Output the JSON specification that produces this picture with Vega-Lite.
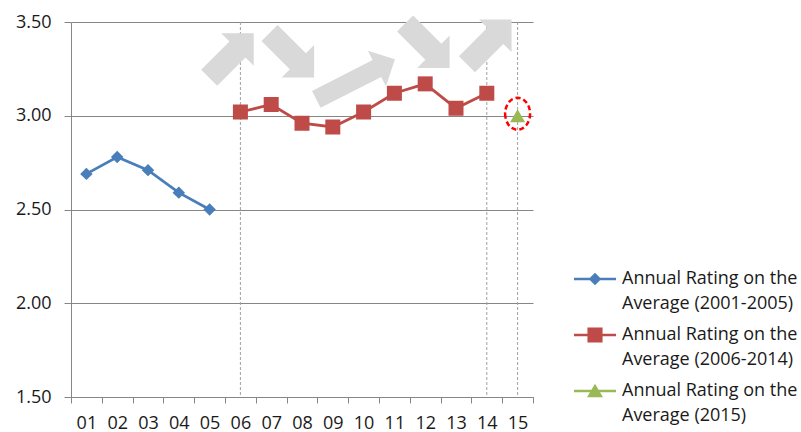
{
  "$schema": "https://vega.github.io/schema/vega-lite/v6.json",
  "width": 462,
  "height": 375,
  "autosize": {"type": "none"},
  "padding": {"left": 71, "top": 22, "right": 268, "bottom": 35},
  "background": "white",
  "config": {
    "view": {"stroke": null},
    "font": "Open Sans",
    "style": {"guide-label": {"lineHeight": 25}},
    "axis": {
      "labelFont": "Open Sans",
      "labelFontSize": 18,
      "labelColor": "#1a1a1a",
      "domainColor": "#868686",
      "tickColor": "#868686",
      "gridColor": "#868686",
      "domainWidth": 1,
      "tickWidth": 1,
      "gridWidth": 1,
      "title": null
    },
    "legend": {
      "labelFont": "Open Sans",
      "labelFontSize": 18,
      "labelColor": "#1a1a1a"
    }
  },
  "datasets": {
    "ratings": [
      {"yr": "01", "v": 2.69, "series": "Annual Rating on the Average (2001-2005)"},
      {"yr": "02", "v": 2.78, "series": "Annual Rating on the Average (2001-2005)"},
      {"yr": "03", "v": 2.71, "series": "Annual Rating on the Average (2001-2005)"},
      {"yr": "04", "v": 2.59, "series": "Annual Rating on the Average (2001-2005)"},
      {"yr": "05", "v": 2.50, "series": "Annual Rating on the Average (2001-2005)"},
      {"yr": "06", "v": 3.02, "series": "Annual Rating on the Average (2006-2014)"},
      {"yr": "07", "v": 3.06, "series": "Annual Rating on the Average (2006-2014)"},
      {"yr": "08", "v": 2.96, "series": "Annual Rating on the Average (2006-2014)"},
      {"yr": "09", "v": 2.94, "series": "Annual Rating on the Average (2006-2014)"},
      {"yr": "10", "v": 3.02, "series": "Annual Rating on the Average (2006-2014)"},
      {"yr": "11", "v": 3.12, "series": "Annual Rating on the Average (2006-2014)"},
      {"yr": "12", "v": 3.17, "series": "Annual Rating on the Average (2006-2014)"},
      {"yr": "13", "v": 3.04, "series": "Annual Rating on the Average (2006-2014)"},
      {"yr": "14", "v": 3.12, "series": "Annual Rating on the Average (2006-2014)"},
      {"yr": "15", "v": 3.00, "series": "Annual Rating on the Average (2015)"}
    ],
    "dividers": [
      {"yr": "06"},
      {"yr": "14"},
      {"yr": "15"}
    ],
    "arrows": [
      {"pos": 5.71, "level": 3.321, "trend": "up"},
      {"pos": 7.67, "level": 3.323, "trend": "down"},
      {"pos": 9.74, "level": 3.194, "trend": "rise"},
      {"pos": 12.07, "level": 3.373, "trend": "down"},
      {"pos": 14.08, "level": 3.394, "trend": "up"}
    ]
  },
  "layer": [
    {
      "encoding": {
        "x": {
          "field": "yr",
          "type": "ordinal",
          "scale": {
            "type": "band",
            "domain": ["01","02","03","04","05","06","07","08","09","10","11","12","13","14","15"],
            "paddingInner": 0,
            "paddingOuter": 0
          },
          "axis": {
            "tickBand": "extent",
            "tickSize": 6,
            "labelPadding": 11,
            "labelAngle": 0,
            "grid": false
          }
        }
      },
      "layer": [
        {
          "data": {"name": "dividers"},
          "mark": {"type": "rule", "color": "#a0a0a0", "strokeWidth": 1, "strokeDash": [3, 2], "opacity": 1}
        },
        {
          "data": {"name": "ratings"},
          "encoding": {
            "y": {
              "field": "v",
              "type": "quantitative",
              "scale": {"domain": [1.5, 3.5], "nice": false, "zero": false},
              "axis": {
                "values": [1.5, 2, 2.5, 3, 3.5],
                "format": ".2f",
                "tickSize": 7,
                "labelPadding": 13,
                "grid": true
              }
            }
          },
          "layer": [
            {
              "transform": [{"filter": "datum.series == 'Annual Rating on the Average (2001-2005)'"}],
              "mark": {"type": "line", "strokeWidth": 2.8, "color": "#4a7ebb"}
            },
            {
              "transform": [{"filter": "datum.series == 'Annual Rating on the Average (2006-2014)'"}],
              "mark": {"type": "line", "strokeWidth": 2.8, "color": "#be4b48"}
            },
            {
              "transform": [{"filter": "datum.series == 'Annual Rating on the Average (2001-2005)'"}],
              "mark": {"type": "point", "filled": true, "opacity": 1, "size": 225, "color": "#4a7ebb",
                       "shape": "M0,-0.83L0.83,0L0,0.83L-0.83,0Z"}
            },
            {
              "transform": [{"filter": "datum.series == 'Annual Rating on the Average (2006-2014)'"}],
              "mark": {"type": "point", "filled": true, "opacity": 1, "size": 225, "color": "#be4b48",
                       "shape": "M-1,-1L1,-1L1,1L-1,1Z"}
            },
            {
              "transform": [{"filter": "datum.series == 'Annual Rating on the Average (2015)'"}],
              "mark": {"type": "point", "filled": true, "opacity": 1, "size": 225, "color": "#98b954",
                       "shape": "M0,-0.87L1,0.87L-1,0.87Z"}
            },
            {
              "transform": [{"filter": "datum.series == 'Annual Rating on the Average (2015)'"}],
              "mark": {
                "type": "point",
                "filled": false,
                "shape": "M-0.78,0A0.78,1,0,1,0,0.78,0A0.78,1,0,1,0,-0.78,0Z",
                "size": 1024,
                "stroke": "#ff0000",
                "strokeWidth": 2.5,
                "strokeDash": [5, 3],
                "opacity": 1,
                "yOffset": -2
              }
            },
            {
              "transform": [{"filter": "datum.v < 0"}],
              "mark": {"type": "point", "filled": true, "opacity": 1},
              "encoding": {
                "color": {
                  "field": "series",
                  "type": "nominal",
                  "scale": {
                    "domain": [
                      "Annual Rating on the Average (2001-2005)",
                      "Annual Rating on the Average (2006-2014)",
                      "Annual Rating on the Average (2015)"
                    ],
                    "range": ["#4a7ebb", "#be4b48", "#98b954"]
                  },
                  "legend": {
                    "orient": "none",
                    "legendX": 502,
                    "legendY": 235,
                    "title": null,
                    "padding": 0,
                    "symbolSize": 1764,
                    "symbolOpacity": 1,
                    "labelOffset": 5,
                    "rowPadding": -6,
                    "labelLimit": 300,
                    "labelExpr": "[slice(datum.label, 0, 20), slice(datum.label, 21)]"
                  }
                },
                "shape": {
                  "field": "series",
                  "type": "nominal",
                  "scale": {
                    "domain": [
                      "Annual Rating on the Average (2001-2005)",
                      "Annual Rating on the Average (2006-2014)",
                      "Annual Rating on the Average (2015)"
                    ],
                    "range": [
                      "M-1,-0.065L1,-0.065L1,0.065L-1,0.065ZM0,-0.3L0.3,0L0,0.3L-0.3,0Z",
                      "M-1,-0.065L1,-0.065L1,0.065L-1,0.065ZM-0.36,-0.36L0.36,-0.36L0.36,0.36L-0.36,0.36Z",
                      "M-1,-0.065L1,-0.065L1,0.065L-1,0.065ZM0,-0.34L0.38,0.3L-0.38,0.3Z"
                    ]
                  }
                }
              }
            }
          ]
        }
      ]
    },
    {
      "data": {"name": "arrows"},
      "encoding": {
        "x": {
          "field": "pos",
          "type": "quantitative",
          "scale": {"domain": [0.5, 15.5], "nice": false, "zero": false},
          "axis": null
        },
        "y": {"field": "level", "type": "quantitative"}
      },
      "layer": [
        {
          "transform": [{"filter": "datum.trend == 'up'"}],
          "mark": {
            "type": "point", "filled": true, "opacity": 1, "color": "#d9d9d9", "strokeWidth": 0,
            "shape": "M-1,-0.36L0.27,-0.36L0.27,-0.73L1,0L0.27,0.73L0.27,0.36L-1,0.36Z",
            "size": 3969, "angle": 315
          }
        },
        {
          "transform": [{"filter": "datum.trend == 'down'"}],
          "mark": {
            "type": "point", "filled": true, "opacity": 1, "color": "#d9d9d9", "strokeWidth": 0,
            "shape": "M-1,-0.36L0.27,-0.36L0.27,-0.73L1,0L0.27,0.73L0.27,0.36L-1,0.36Z",
            "size": 3969, "angle": 45
          }
        },
        {
          "transform": [{"filter": "datum.trend == 'rise'"}],
          "mark": {
            "type": "point", "filled": true, "opacity": 1, "color": "#d9d9d9", "strokeWidth": 0,
            "shape": "M-1.4,-0.3L0.76,-0.3L0.76,-0.635L1.4,0L0.76,0.635L0.76,0.3L-1.4,0.3Z",
            "size": 3969, "angle": 333
          }
        }
      ]
    }
  ],
  "resolve": {"scale": {"x": "independent"}}
}
